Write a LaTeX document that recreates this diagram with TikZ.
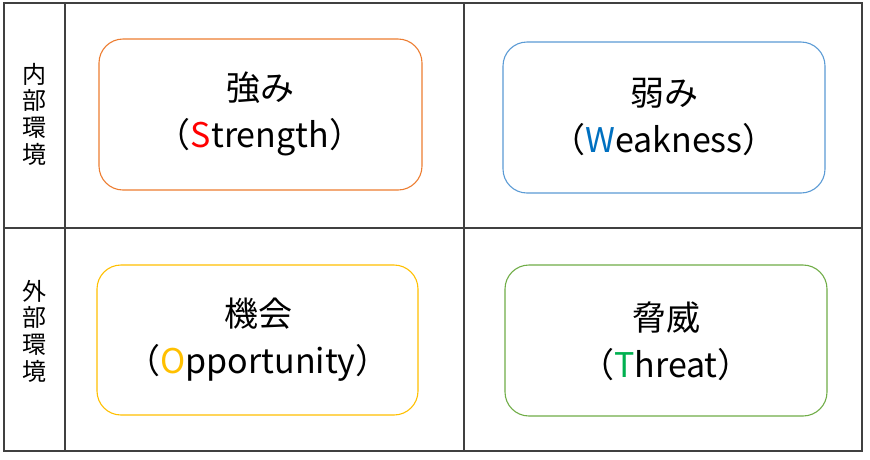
\documentclass[tikz,border=0pt]{standalone}
\usepackage{fontspec}
\setmainfont{Noto Sans CJK JP}
\definecolor{cS}{HTML}{ED7D31}
\definecolor{cW}{HTML}{5B9BD5}
\definecolor{cO}{HTML}{FFC000}
\definecolor{cT}{HTML}{70AD47}
\definecolor{tS}{HTML}{FF0000}
\definecolor{tW}{HTML}{0070C0}
\definecolor{tO}{HTML}{FFC000}
\definecolor{tT}{HTML}{00B050}
\definecolor{gridc}{HTML}{404040}
\tikzset{
  gridline/.style={draw=gridc, line width=1.4pt},
  swotbox/.style={rounded corners=24pt, line width=1.1pt, fill=white},
  swottext/.style={align=center, font=\fontsize{34}{47}\selectfont, text=black, inner sep=0pt},
  sidelabel/.style={align=center, font=\fontsize{24}{26.7}\selectfont, inner sep=0pt}
}
\begin{document}
\begin{tikzpicture}[x=1pt,y=-1pt]
\useasboundingbox (0,0) rectangle (870,459);
\fill[white] (0,0) rectangle (870,459);
% grid
\draw[gridline] (4,3) rectangle (862,451);
\draw[gridline] (65,3) -- (65,451);
\draw[gridline] (464,3) -- (464,451);
\draw[gridline] (4,228) -- (862,228);
% side labels
\node[sidelabel] (inner) at (35,114) {内\\部\\環\\境};
\node[sidelabel] (outer) at (35,331) {外\\部\\環\\境};
% boxes
\draw[swotbox, draw=cS] (99,39) rectangle (422,190);
\draw[swotbox, draw=cW] (503,42) rectangle (825,193);
\draw[swotbox, draw=cO] (97,265) rectangle (418,415);
\draw[swotbox, draw=cT] (505,265) rectangle (827,416);
% texts
\node[swottext] (S) at (260,114) {強み\\（\textcolor{tS}{S}trength）};
\node[swottext] (W) at (664,117) {弱み\\（\textcolor{tW}{W}eakness）};
\node[swottext] (O) at (258,340) {機会\\（\textcolor{tO}{O}pportunity）};
\node[swottext] (T) at (666,341) {脅威\\（\textcolor{tT}{T}hreat）};
\end{tikzpicture}
\end{document}
